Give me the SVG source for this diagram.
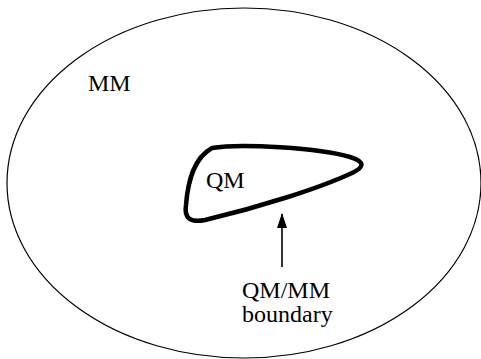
<svg xmlns="http://www.w3.org/2000/svg" width="481" height="359" viewBox="0 0 481 359">
<style>
text{font-family:"Liberation Serif","DejaVu Serif",serif;font-size:24px;fill:#000}
.thin{fill:none;stroke:#000;stroke-width:1.2}
</style>
<defs>
<marker id="ah" markerWidth="15" markerHeight="10" refX="14" refY="5" orient="auto" markerUnits="userSpaceOnUse" viewBox="0 0 15 10">
<path d="M0,0 L15,5 L0,10 Z" fill="#000"/>
</marker>
</defs>
<rect width="481" height="359" fill="#fff"/>
<g id="mm-region">
<ellipse class="thin" cx="244" cy="183" rx="237" ry="175"/>
<text x="88" y="91">MM</text>
</g>
<g id="qm-region">
<path d="M212,148 C240,143 320,148 350,157 C366,162 364,167 352,173 C320,188 260,207 205,220 C190,223 184,218 186,205 C188,180 194,158 212,148 Z" fill="none" stroke="#000" stroke-width="4.5" stroke-linejoin="round"/>
<text x="206" y="188">QM</text>
</g>
<g id="connectors">
<line x1="282" y1="267" x2="282" y2="214" stroke="#000" stroke-width="1.6" marker-end="url(#ah)"/>
</g>
<g id="boundary-label">
<text x="242" y="298">QM/MM</text>
<text x="242" y="322">boundary</text>
</g>
</svg>
